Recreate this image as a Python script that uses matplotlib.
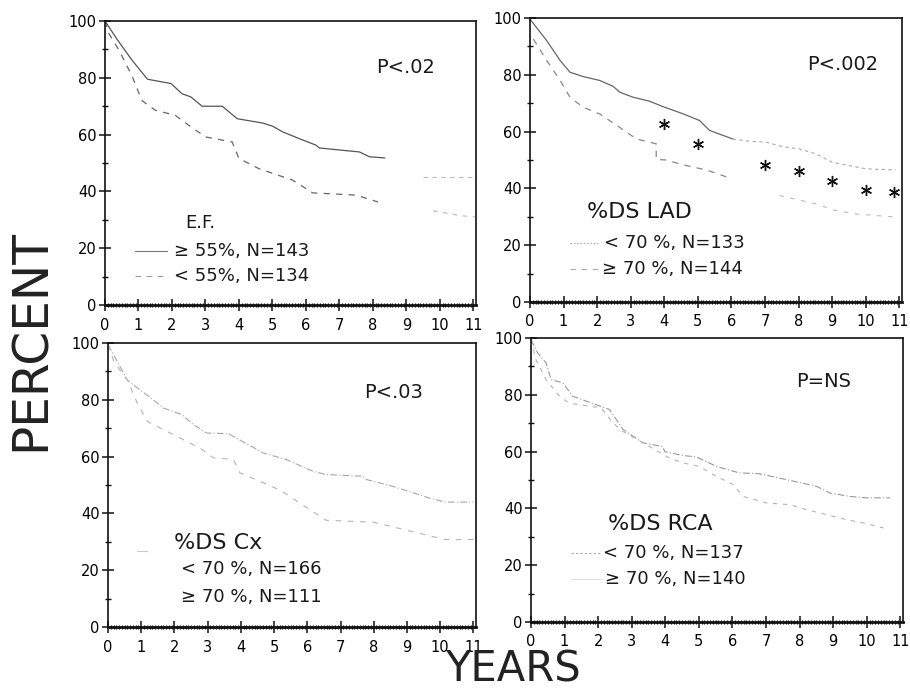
import numpy as np
import matplotlib
matplotlib.use("Agg")
import matplotlib.pyplot as plt

plt.rcParams['font.family'] = ['DejaVu Sans']

# ---------------- data (years, percent) ----------------
# Panel A: ejection fraction
ef_hi_x = [0, 0.37, 0.82, 1.27, 1.97, 2.3, 2.56, 2.9, 3.5, 3.95, 4.7, 5.0, 5.3, 5.8, 6.3, 6.4, 7.6, 7.9, 8.35]
ef_hi_y = [100, 93.4, 86, 79.5, 78, 74.4, 73.3, 70, 70, 65.6, 64.1, 63, 61, 58.6, 56.3, 55.3, 53.9, 52.2, 51.8]
ef_hi_tail_x = [9.5, 10.3, 11.05]
ef_hi_tail_y = [45.2, 45.2, 45.2]
ef_lo_x = [0, 0.12, 0.42, 0.82, 1.1, 1.5, 2.1, 2.5, 3.0, 3.8, 4.0, 4.6, 5.6, 6.2, 7.5, 8.15]
ef_lo_y = [100, 95.5, 89.7, 80.3, 72, 68.6, 66.8, 63.3, 59.2, 57.4, 51.6, 48, 44, 39.5, 38.7, 36.3]
ef_lo_tail_x = [9.8, 10.6, 11.05]
ef_lo_tail_y = [33.2, 31.5, 31.0]

# Panel B: %DS LAD
lad_lo_x = [0, 0.5, 0.9, 1.19, 1.58, 2.08, 2.48, 2.67, 3.07, 3.56, 3.96, 4.55, 5.05, 5.35, 6.04]
lad_lo_y = [99.6, 92, 85, 80.9, 79.4, 78, 75.9, 73.9, 72.1, 70.7, 68.8, 66.3, 63.9, 60.4, 57.4]
lad_lo_tail_x = [6.04, 6.53, 7.03, 7.52, 8.02, 8.51, 9.0, 10.0, 10.9]
lad_lo_tail_y = [57.4, 56.6, 56.3, 54.7, 53.9, 52.2, 49.2, 46.9, 46.5]
lad_hi_x = [0.1, 0.5, 0.9, 1.19, 1.58, 2.08, 2.67, 3.17, 3.76, 3.76, 4.06, 4.55, 5.25, 5.84]
lad_hi_y = [92.6, 85, 78, 72.1, 68.6, 66.2, 61.5, 57.4, 55.7, 50.2, 50, 48.3, 46.5, 44.1]
lad_hi_tail_x = [7.43, 8.5, 9.1, 9.7, 10.9]
lad_hi_tail_y = [37.5, 34.6, 32.2, 31.0, 29.9]
lad_star_x = [4.0, 5.0, 7.0, 8.0, 9.0, 10.0, 10.85]
lad_star_y = [62.5, 55.5, 48.3, 46.0, 42.5, 39.5, 38.7]

# Panel C: %DS Cx
cx_lo_x = [0, 0.58, 0.88, 1.23, 1.67, 2.22, 2.57, 2.97, 3.62, 4.67, 5.36, 6.16, 6.56, 7.67, 7.76, 8.56, 9.65, 10.15, 11.0]
cx_lo_y = [99.4, 87, 84.2, 81.2, 77.1, 74.8, 71.3, 68.3, 68.1, 61.3, 59, 54.9, 53.7, 53.1, 52, 49.6, 45.5, 44, 44]
cx_hi_x = [0, 0.18, 0.58, 0.88, 1.18, 1.67, 2.77, 3.17, 3.77, 3.97, 4.67, 5.21, 6.56, 8.0, 10.15, 11.0]
cx_hi_y = [99.4, 93.3, 87, 78.9, 72.4, 69.5, 63, 59.6, 59, 54.3, 50.8, 48, 37.6, 36.9, 30.8, 30.8]

# Panel D: %DS RCA
rca_lo_x = [0, 0.2, 0.45, 0.6, 0.95, 1.24, 2.34, 2.74, 3.33, 3.63, 3.93, 3.98, 4.53, 4.93, 5.52, 6.2, 6.8, 8.5, 8.9, 9.5, 10.0, 10.7]
rca_lo_y = [99.4, 94.7, 91.2, 85.3, 84.2, 79.5, 74.8, 67.8, 63.1, 62.4, 61.7, 60, 58.6, 58.1, 54.8, 52.5, 52.2, 47.8, 45.4, 44.2, 43.7, 43.7]
rca_hi_x = [0, 0.15, 0.45, 0.85, 1.14, 2.09, 2.44, 2.74, 4.13, 4.53, 5.0, 5.52, 6.02, 6.32, 7.01, 7.71, 8.21, 8.81, 9.4, 9.9, 10.5]
rca_hi_y = [99.4, 92.4, 85.3, 79.5, 77.0, 75.4, 70.1, 67.1, 57.7, 56, 54.8, 51.3, 48.4, 44.2, 41.9, 41.3, 39.5, 37.8, 36, 34.9, 33.1]

x_ticks = list(range(0, 12))
y_ticks = [0, 20, 40, 60, 80, 100]

# ---------------- figure ----------------
fig = plt.figure(figsize=(9.10, 6.92), dpi=100)

positions = {
    'A': [0.1154, 0.5592, 0.4077, 0.4104],
    'B': [0.5824, 0.5636, 0.4088, 0.4104],
    'C': [0.1187, 0.0939, 0.4044, 0.4104],
    'D': [0.5835, 0.1012, 0.4088, 0.4104],
}

def setup(ax):
    ax.set_xlim(0, 11.08)
    ax.set_ylim(0, 100)
    ax.set_xticks(x_ticks)
    ax.set_xticks(np.arange(0, 11.01, 1 / 12), minor=True)
    ax.set_yticks(y_ticks)
    ax.set_yticks(np.arange(10, 100, 20), minor=True)
    ax.tick_params(axis='both', which='major', direction='inout', length=8,
                   width=1.1, labelsize=10.5, color='#111111')
    ax.tick_params(axis='x', which='minor', direction='inout', length=3.5, width=0.9, color='#111111')
    ax.tick_params(axis='y', which='minor', direction='inout', length=5, width=1.0, color='#111111')
    ax.tick_params(axis='x', which='major', pad=5)
    ax.tick_params(axis='y', which='major', pad=2)
    for s in ax.spines.values():
        s.set_linewidth(1.2)
        s.set_color('#111111')
    ax.spines['bottom'].set_linewidth(2.0)

txt_kw = dict(color='#1a1a1a', va='center', ha='left')

# Panel A
ax = fig.add_axes(positions['A'])
setup(ax)
ax.plot(ef_hi_x, ef_hi_y, color='#555555', lw=0.9)
ax.plot(ef_hi_tail_x, ef_hi_tail_y, color='#bbbbbb', lw=0.8, dashes=(4, 4))
ax.plot(ef_lo_x, ef_lo_y, color='#666666', lw=0.9, dashes=(5, 5))
ax.plot(ef_lo_tail_x, ef_lo_tail_y, color='#bbbbbb', lw=0.8, dashes=(4, 5))
ax.text(8.1, 83.7, 'P<.02', fontsize=14, **txt_kw)
ax.text(2.4, 28.8, 'E.F.', fontsize=13, **txt_kw)
ax.plot([0.9, 1.85], [19.1, 19.1], color='#777777', lw=0.8)
ax.plot([0.9, 1.85], [10.2, 10.2], color='#999999', lw=0.8, dashes=(5, 5))
ax.text(2.05, 19.1, '≥ 55%, N=143', fontsize=13, **txt_kw)
ax.text(2.05, 10.2, '< 55%, N=134', fontsize=13, **txt_kw)

# Panel B
ax = fig.add_axes(positions['B'])
setup(ax)
ax.plot(lad_lo_x, lad_lo_y, color='#666666', lw=0.9)
ax.plot(lad_lo_tail_x, lad_lo_tail_y, color='#aaaaaa', lw=0.8, dashes=(3, 3))
ax.plot(lad_hi_x, lad_hi_y, color='#888888', lw=0.9, dashes=(5, 5))
ax.plot(lad_hi_tail_x, lad_hi_tail_y, color='#bbbbbb', lw=0.8, dashes=(4, 6))
ax.plot(lad_star_x, lad_star_y, linestyle='none', marker=(6, 2, 0), markersize=8,
        markeredgewidth=1.0, color='#111111')
ax.text(8.24, 83.5, 'P<.002', fontsize=14, **txt_kw)
ax.text(1.7, 31.7, '%DS LAD', fontsize=16, **txt_kw)
ax.plot([1.19, 2.02], [20.8, 20.8], color='#aaaaaa', lw=0.8, dashes=(1.5, 1.5))
ax.plot([1.19, 2.05], [11.6, 11.6], color='#aaaaaa', lw=0.8, dashes=(5, 5))
ax.text(2.2, 20.8, '< 70 %, N=133', fontsize=13, **txt_kw)
ax.text(2.14, 11.6, '≥ 70 %, N=144', fontsize=13, **txt_kw)

# Panel C
ax = fig.add_axes(positions['C'])
setup(ax)
ax.plot(cx_lo_x, cx_lo_y, color='#a8a8a8', lw=0.8, dashes=(6, 2, 1, 2))
ax.plot(cx_hi_x, cx_hi_y, color='#b4b4b4', lw=0.8, dashes=(5, 6))
ax.text(7.7, 82.7, 'P<.03', fontsize=14, **txt_kw)
ax.text(2.0, 29.6, '%DS Cx', fontsize=16, **txt_kw)
ax.plot([0.87, 1.17], [26.8, 26.8], color='#cccccc', lw=0.8)
ax.text(2.2, 20.4, '< 70 %, N=166', fontsize=13, **txt_kw)
ax.text(2.2, 10.6, '≥ 70 %, N=111', fontsize=13, **txt_kw)

# Panel D
ax = fig.add_axes(positions['D'])
setup(ax)
ax.plot(rca_lo_x, rca_lo_y, color='#999999', lw=0.8, dashes=(6, 2, 1, 2))
ax.plot(rca_hi_x, rca_hi_y, color='#b4b4b4', lw=0.8, dashes=(4, 5))
ax.text(7.9, 84.5, 'P=NS', fontsize=14, **txt_kw)
ax.text(2.28, 34.5, '%DS RCA', fontsize=16, **txt_kw)
ax.plot([1.2, 2.1], [24.3, 24.3], color='#aaaaaa', lw=0.8, dashes=(2, 2))
ax.plot([1.2, 2.1], [15.1, 15.1], color='#dddddd', lw=0.8)
ax.text(2.14, 24.3, '< 70 %, N=137', fontsize=13, **txt_kw)
ax.text(2.2, 15.1, '≥ 70 %, N=140', fontsize=13, **txt_kw)

# Big axis labels
fig.text(31 / 910, 1 - 340 / 692, 'PERCENT', rotation=90, fontsize=35,
         ha='center', va='center', color='#222222')
fig.text(513 / 910, 1 - 690 / 692, 'YEARS', fontsize=30,
         ha='center', va='bottom', color='#222222')

fig.savefig('out.png', dpi=100, facecolor='white')
